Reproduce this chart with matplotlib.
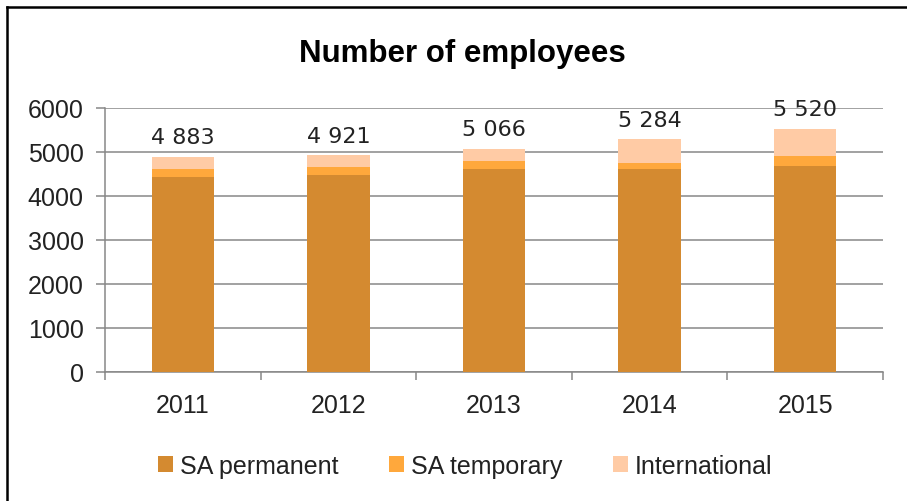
import matplotlib.pyplot as plt
import numpy as np
from matplotlib.lines import Line2D
from matplotlib.patches import Patch

years = ["2011", "2012", "2013", "2014", "2015"]
sa_permanent = [4425, 4470, 4605, 4605, 4690]
sa_temporary = [190, 182, 185, 155, 212]
international = [268, 269, 276, 524, 618]

series_names = ["SA permanent", "SA temporary", "International"]
colors = ["#D48A30", "#FFA83C", "#FFCBA5"]

plt.rcParams["font.family"] = ["Liberation Sans", "DejaVu Sans"]

fig = plt.figure(figsize=(9.07, 5.02), dpi=100)
ax = fig.add_axes([0.1158, 0.257, 0.8577, 0.526])

x = np.arange(len(years))
perm = np.array(sa_permanent)
temp = np.array(sa_temporary)
intl = np.array(international)
totals = perm + temp + intl

ax.bar(x, perm, width=0.4, color=colors[0], zorder=3)
ax.bar(x, temp, width=0.4, bottom=perm, color=colors[1], zorder=3)
ax.bar(x, intl, width=0.4, bottom=perm + temp, color=colors[2], zorder=3)

for xi, t in zip(x, totals):
    label = "{:,}".format(t).replace(",", " ")
    ax.annotate(label, (xi, t), xytext=(0, 10), textcoords="offset points",
                ha="center", va="baseline", fontsize=16, family="DejaVu Sans",
                color="#222222")

ax.set_xlim(-0.5, len(years) - 0.5)
ax.set_ylim(0, 6000)
ax.set_yticks(range(0, 6001, 1000))
ax.yaxis.grid(True, color="#878787", linewidth=1.1, zorder=0)
ax.set_axisbelow(True)

ax.set_xticks(x)
ax.set_xticklabels(years)
ax.set_xticks(np.arange(-0.5, len(years), 1.0), minor=True)
ax.tick_params(axis="x", which="major", length=0, pad=15, labelsize=18, labelcolor="#222222")
ax.tick_params(axis="x", which="minor", length=6, width=1.1, color="#878787", direction="out")
ax.tick_params(axis="y", length=6.5, width=1.1, color="#878787", pad=9, labelsize=18,
               labelcolor="#222222")

for side in ["top", "right"]:
    ax.spines[side].set_visible(False)
for side in ["left", "bottom"]:
    ax.spines[side].set_color("#878787")
    ax.spines[side].set_linewidth(1.1)

fig.text(0.51, 0.893, "Number of employees", ha="center", va="center",
         fontsize=22.5, fontweight="bold", color="black")

handles = [Patch(facecolor=c, edgecolor="none") for c in colors]
fig.legend(handles, series_names, loc="center", bbox_to_anchor=(0.513, 0.07), ncol=3,
           frameon=False, fontsize=18, handlelength=0.6, handleheight=0.6,
           handletextpad=0.3, columnspacing=2.0, labelcolor="#222222")

# frame lines at the top and left of the cropped screenshot
fig.add_artist(Line2D([7 / 907, 1], [1 - 8 / 502, 1 - 8 / 502], color="black", linewidth=1.8))
fig.add_artist(Line2D([7 / 907, 7 / 907], [0, 1 - 8 / 502], color="black", linewidth=1.8))

fig.savefig("out.png", dpi=100)
